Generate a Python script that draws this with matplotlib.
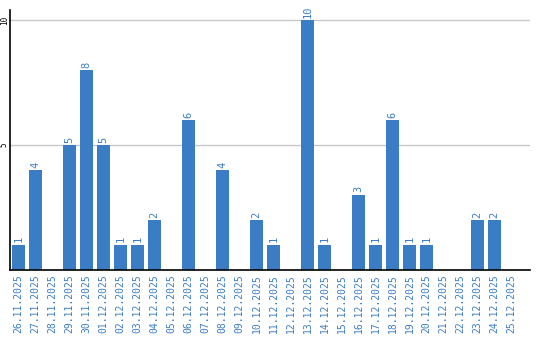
import matplotlib
matplotlib.use("Agg")
import matplotlib.pyplot as plt

dates = ["26.11.2025", "27.11.2025", "28.11.2025", "29.11.2025", "30.11.2025",
         "01.12.2025", "02.12.2025", "03.12.2025", "04.12.2025", "05.12.2025",
         "06.12.2025", "07.12.2025", "08.12.2025", "09.12.2025", "10.12.2025",
         "11.12.2025", "12.12.2025", "13.12.2025", "14.12.2025", "15.12.2025",
         "16.12.2025", "17.12.2025", "18.12.2025", "19.12.2025", "20.12.2025",
         "21.12.2025", "22.12.2025", "23.12.2025", "24.12.2025", "25.12.2025"]
values = [1, 4, 0, 5, 8, 5, 1, 1, 2, 0, 6, 0, 4, 0, 2, 1, 0, 10, 1, 0,
          3, 1, 6, 1, 1, 0, 0, 2, 2, 0]
yticks = [5, 10]

blue = "#3b7dc4"
fig = plt.figure(figsize=(5.4, 3.4), dpi=100)
ax = fig.add_axes([10/540, 70/340, 520/540, 260/340])
x = list(range(len(dates)))
ax.bar(x, values, width=0.82, color=blue, zorder=2)
for xi, v in zip(x, values):
    if v > 0:
        ax.text(xi, v + 0.1, str(v), rotation=90, ha="center", va="bottom",
                color=blue, fontsize=7.5, family="DejaVu Sans Mono")
ax.set_xlim(-0.5, 30.09)
ax.set_ylim(0, 10.4)
ax.set_yticks(yticks)
ax.set_yticklabels([str(t) for t in yticks], rotation=90, va="center",
                   fontsize=5.5, family="DejaVu Sans Mono")
ax.tick_params(axis="y", length=0, pad=0.8)
ax.set_xticks(x)
ax.set_xticklabels(dates, rotation=90, color=blue, fontsize=7,
                   family="DejaVu Sans Mono")
ax.tick_params(axis="x", length=0, pad=3)
ax.grid(axis="y", color="#c8c8c8", linewidth=1, zorder=0)
for s in ["top", "right"]:
    ax.spines[s].set_visible(False)
ax.spines["left"].set_linewidth(1.2)
ax.spines["bottom"].set_linewidth(1.2)
fig.savefig("out.png", dpi=100)
